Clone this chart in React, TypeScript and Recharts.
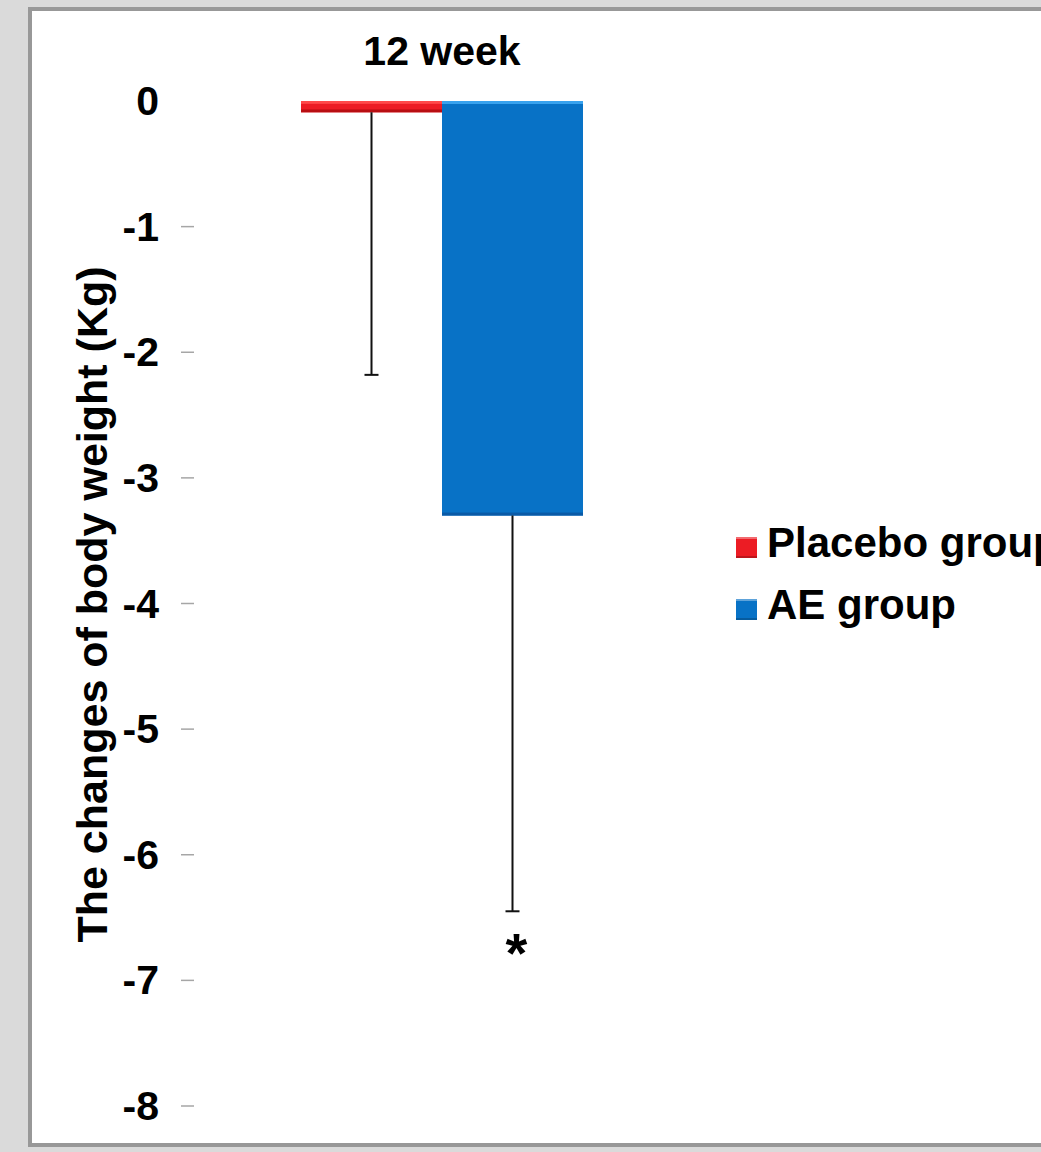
import { BarChart, Bar, XAxis, YAxis, Legend } from "recharts";

const categories = ["12 week"];
const seriesNames = ["Placebo group", "AE group"];
const placeboMean = [-0.09];
const placeboErr = [2.09];
const aeMean = [-3.3];
const aeErr = [3.15];
const aeSig = ["*"];
const yTicks = [0, -1, -2, -3, -4, -5, -6, -7, -8];

const data = categories.map((week, i) => ({
  week,
  placebo: placeboMean[i],
  placeboErr: placeboErr[i],
  ae: aeMean[i],
  aeErr: aeErr[i],
  aeSig: aeSig[i],
}));

const FONT = "'Liberation Sans', Arial, Helvetica, sans-serif";

// bar with bevel-ish edges plus a one-sided (downward) error bar
const barShape =
  (meanKey: string, errKey: string, light: string, dark: string, sigKey?: string) =>
  // eslint-disable-next-line @typescript-eslint/no-explicit-any
  (props: any) => {
    const { x, y, width, height, payload, fill } = props;
    const top = Math.min(y, y + height);
    const h = Math.abs(height);
    const mean = payload[meanKey];
    const err = payload[errKey];
    const pxPerUnit = h / Math.abs(mean);
    const zeroY = mean < 0 ? top : top + h;
    const endY = zeroY + (Math.abs(mean) + err) * pxPerUnit;
    const startY = top + h;
    const cx = x + width / 2;
    const edge = Math.min(3, h / 4);
    return (
      <g>
        <rect x={x} y={top} width={width} height={h} fill={fill} />
        <rect x={x} y={top} width={width} height={edge} fill={light} />
        <rect x={x} y={top + h - edge} width={width} height={edge} fill={dark} />
        <line x1={cx} x2={cx} y1={startY} y2={endY} stroke="#111" strokeWidth={2} />
        <line x1={cx - 7} x2={cx + 7} y1={endY} y2={endY} stroke="#111" strokeWidth={2} />
        {sigKey && payload[sigKey] ? (
          <text
            x={cx + 4}
            y={endY + 61}
            textAnchor="middle"
            fontFamily={FONT}
            fontWeight="bold"
            fontSize={56}
            fill="#000"
          >
            {payload[sigKey]}
          </text>
        ) : null}
      </g>
    );
  };

// eslint-disable-next-line @typescript-eslint/no-explicit-any
const YTick = ({ x, y, payload }: any) => (
  <g>
    {payload.value !== 0 && (
      <line x1={x + 22} x2={x + 35} y1={y} y2={y} stroke="#a6a6a6" strokeWidth={1.5} />
    )}
    <text
      x={x}
      y={y}
      dy={14}
      textAnchor="end"
      fontFamily={FONT}
      fontWeight="bold"
      fontSize={41}
      fill="#000"
    >
      {payload.value}
    </text>
  </g>
);

// eslint-disable-next-line @typescript-eslint/no-explicit-any
const YLabel = ({ viewBox }: any) => {
  const cx = viewBox.x + viewBox.width / 2 - 5;
  const cy = viewBox.y + viewBox.height / 2 + 1;
  return (
    <text
      x={cx}
      y={cy}
      transform={`rotate(-90, ${cx}, ${cy})`}
      textAnchor="middle"
      dominantBaseline="central"
      fontFamily={FONT}
      fontWeight="bold"
      fontSize={43}
      fill="#000"
    >
      The changes of body weight (Kg)
    </text>
  );
};

// eslint-disable-next-line @typescript-eslint/no-explicit-any
const renderLegend = ({ payload }: any) => {
  const items = [...(payload || [])].sort(
    // eslint-disable-next-line @typescript-eslint/no-explicit-any
    (a: any, b: any) => seriesNames.indexOf(a.value) - seriesNames.indexOf(b.value)
  );
  return (
    <div>
      {items.map((entry) => (
        <div
          key={entry.value}
          style={{ display: "flex", alignItems: "center", height: 62, whiteSpace: "nowrap" }}
        >
          <span
            style={{
              display: "inline-block",
              width: 21,
              height: 21,
              background: entry.color,
              marginRight: 10,
              boxShadow: "inset 0 2px 0 rgba(255,255,255,0.35), inset 0 -2px 0 rgba(0,0,0,0.2)",
            }}
          />
          <span
            style={{
              fontFamily: FONT,
              fontWeight: "bold",
              fontSize: 42,
              lineHeight: 1,
              color: "#000",
              position: "relative",
              top: -4,
            }}
          >
            {entry.value}
          </span>
        </div>
      ))}
    </div>
  );
};

export default function App() {
  return (
    <div
      style={{
        position: "absolute",
        left: 0,
        top: 0,
        width: 1041,
        height: 1152,
        background: "#dadada",
        overflow: "hidden",
      }}
    >
      <div
        style={{
          position: "absolute",
          left: 28,
          top: 7,
          width: 1100,
          height: 1132,
          border: "4px solid #989898",
          background: "#fff",
        }}
      />
      <div style={{ position: "absolute", left: 0, top: 0 }}>
        <BarChart
          width={1100}
          height={1152}
          data={data}
          margin={{ top: 0, right: 410, bottom: 46, left: 0 }}
          barGap={0}
          barSize={141}
        >
          <XAxis
            dataKey="week"
            orientation="top"
            height={101}
            axisLine={false}
            tickLine={false}
            tickMargin={30}
            tick={{ fill: "#000", fontSize: 41, fontWeight: "bold", fontFamily: FONT }}
          />
          <YAxis
            type="number"
            domain={[-8, 0]}
            ticks={yTicks}
            width={194}
            axisLine={false}
            tickLine={false}
            tickSize={13}
            tickMargin={22}
            tick={<YTick />}
            label={<YLabel />}
          />
          <Legend
            layout="vertical"
            align="center"
            verticalAlign="middle"
            wrapperStyle={{ left: 736, top: 516, width: 400 }}
            content={renderLegend}
          />
          <Bar
            dataKey="placebo"
            name={seriesNames[0]}
            fill="#ec1c24"
            isAnimationActive={false}
            shape={barShape("placebo", "placeboErr", "#ff4a4a", "#b80e12")}
          />
          <Bar
            dataKey="ae"
            name={seriesNames[1]}
            fill="#0872c6"
            isAnimationActive={false}
            shape={barShape("ae", "aeErr", "#38a2ee", "#0a5aa6", "aeSig")}
          />
        </BarChart>
      </div>
    </div>
  );
}
